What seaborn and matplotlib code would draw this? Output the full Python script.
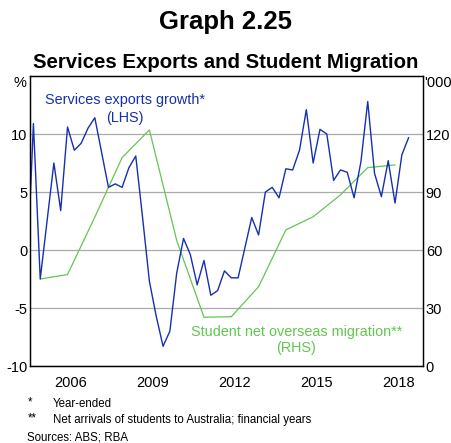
import numpy as np
import pandas as pd
import matplotlib
matplotlib.use('Agg')
import matplotlib.pyplot as plt
import seaborn as sns
from matplotlib.ticker import FixedLocator, FixedFormatter

# Services exports growth, year-ended %, quarterly (LHS)
exports_quarters = pd.period_range('2004Q4', '2018Q4', freq='Q')
exports_growth = [-3.0, 10.9, -2.5, 2.5, 7.5, 3.4, 10.6, 8.6, 9.2, 10.5,
                  11.4, 8.4, 5.4, 5.7, 5.4, 7.1, 8.1, 2.8, -2.7, -5.7,
                  -8.3, -7.0, -2.0, 1.0, -0.4, -3.0, -0.9, -3.9, -3.5, -1.8,
                  -2.4, -2.4, 0.2, 2.8, 1.3, 5.0, 5.4, 4.5, 7.0, 6.9,
                  8.6, 12.1, 7.5, 10.4, 10.0, 6.0, 6.9, 6.7, 4.5, 7.6,
                  12.8, 6.6, 4.6, 7.7, 4.05, 8.2, 9.7]

# Student net overseas migration, '000, financial years (RHS)
migration_years = [2005, 2006, 2007, 2008, 2009, 2010, 2011,
                   2012, 2013, 2014, 2015, 2016, 2017, 2018]
migration = [45.0, 47.3, 77.0, 107.8, 122.1, 65.0, 25.2,
             25.5, 41.0, 70.4, 77.2, 88.5, 102.6, 104.0]

label_years = [2006, 2009, 2012, 2015, 2018]

blue = '#1530b0'
green = '#62c650'

# decimal year, plotted mid-quarter
exp_df = pd.DataFrame({
    'date': [p.year + (p.quarter - 1) * 0.25 + 0.125 for p in exports_quarters],
    'growth': exports_growth})
mig_df = pd.DataFrame({
    'date': [y + 0.375 for y in migration_years],
    'migration': migration})

sns.set_style('white')
plt.rcParams['font.family'] = ['Liberation Sans', 'DejaVu Sans']
plt.rcParams['axes.unicode_minus'] = False
plt.rcParams['text.color'] = 'black'
plt.rcParams['xtick.color'] = 'black'
plt.rcParams['ytick.color'] = 'black'

fig = plt.figure(figsize=(4.52, 4.43), dpi=100)
ax = fig.add_axes([30/452, 77/443, 393/452, 290/443])
ax2 = ax.twinx()
ax.set_zorder(2)
ax2.set_zorder(1)
ax.patch.set_visible(False)

sns.lineplot(data=mig_df, x='date', y='migration', ax=ax2, color=green, lw=0.9)
sns.lineplot(data=exp_df, x='date', y='growth', ax=ax, color=blue, lw=1.0)

ax.set_xlim(2005.0, 2019.4)
ax.set_ylim(-10, 15)
ax2.set_ylim(0, 150)

ax.set_yticks([-10, -5, 0, 5, 10])
ax2.set_yticks([0, 30, 60, 90, 120])
ax2.yaxis.grid(True, color='#aaaaaa', lw=0.9)
ax.yaxis.grid(False)

ax.xaxis.set_major_locator(FixedLocator([y + 0.5 for y in label_years]))
ax.xaxis.set_major_formatter(FixedFormatter([str(y) for y in label_years]))
ax.xaxis.set_minor_locator(FixedLocator(list(range(2006, 2020))))
ax.tick_params(axis='x', which='major', length=0, pad=7, labelsize=10.5)
ax.tick_params(axis='x', which='minor', length=4, width=0.8, direction='in', color='black')
ax.tick_params(axis='y', length=0, pad=2, labelsize=10.5)
ax2.tick_params(axis='y', length=0, pad=2, labelsize=10.5)
ax.set_xlabel('')
ax.set_ylabel('')
ax2.set_ylabel('')

for a in (ax, ax2):
    for s in a.spines.values():
        s.set_color('black')
        s.set_linewidth(0.9)

ax.text(-0.026, 0.975, '%', transform=ax.transAxes, ha='center', va='center', fontsize=10.5)
ax.text(1.003, 0.975, "'000", transform=ax.transAxes, ha='left', va='center', fontsize=10.5)

ax.text(2008.48, 12.9, 'Services exports growth*', color=blue, ha='center', va='center', fontsize=10.4)
ax.text(2008.48, 11.4, '(LHS)', color=blue, ha='center', va='center', fontsize=10.4)
ax.text(2014.78, -7.05, 'Student net overseas migration**', color=green, ha='center', va='center', fontsize=10.4)
ax.text(2014.76, -8.42, '(RHS)', color=green, ha='center', va='center', fontsize=10.4)

fig.text(226/452, 1 - 22/443, 'Graph 2.25', ha='center', va='center', fontsize=18.5, fontweight='bold')
fig.text(226/452, 1 - 62/443, 'Services Exports and Student Migration', ha='center', va='center',
         fontsize=14.7, fontweight='bold')

fig.text(28/452, 1 - 402/443, '*', ha='left', va='center', fontsize=8.3)
fig.text(53/452, 1 - 404/443, 'Year-ended', ha='left', va='center', fontsize=8.3)
fig.text(28/452, 1 - 418/443, '**', ha='left', va='center', fontsize=8.3)
fig.text(53/452, 1 - 420.5/443, 'Net arrivals of students to Australia; financial years', ha='left', va='center', fontsize=8.3)
fig.text(27/452, 1 - 437.5/443, 'Sources: ABS; RBA', ha='left', va='center', fontsize=8.3)

fig.savefig('out.png', dpi=100)
